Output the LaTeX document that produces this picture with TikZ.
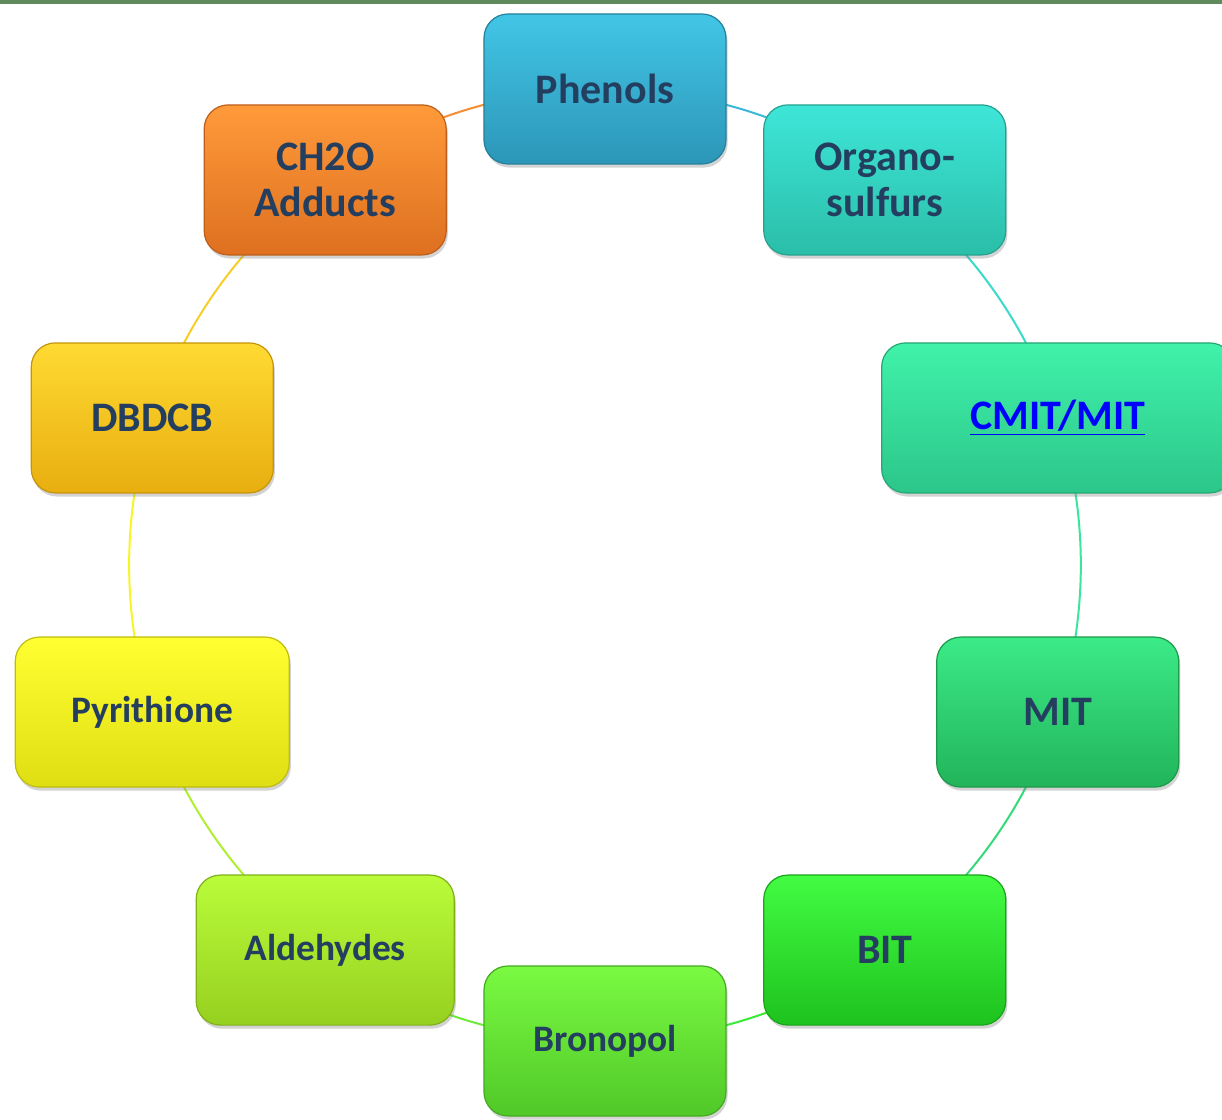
\documentclass[tikz,border=0pt]{standalone}
\usepackage{fontspec}
\setmainfont{Carlito}
\usetikzlibrary{shadows}
\usetikzlibrary{backgrounds}

\definecolor{txtnavy}{RGB}{36,62,96}
\definecolor{topbar}{RGB}{94,138,94}
\definecolor{phenT}{RGB}{66,198,230}\definecolor{phenB}{RGB}{44,150,184}
\definecolor{orgaT}{RGB}{62,230,216}\definecolor{orgaB}{RGB}{42,190,168}
\definecolor{cmitT}{RGB}{64,242,170}\definecolor{cmitB}{RGB}{44,198,138}
\definecolor{mitT}{RGB}{60,234,136}\definecolor{mitB}{RGB}{34,180,90}
\definecolor{bitT}{RGB}{66,252,66}\definecolor{bitB}{RGB}{30,194,30}
\definecolor{bronT}{RGB}{122,250,66}\definecolor{bronB}{RGB}{80,200,40}
\definecolor{aldeT}{RGB}{186,252,58}\definecolor{aldeB}{RGB}{150,208,32}
\definecolor{pyriT}{RGB}{255,255,50}\definecolor{pyriB}{RGB}{222,222,18}
\definecolor{dbdcT}{RGB}{255,218,50}\definecolor{dbdcB}{RGB}{232,174,16}
\definecolor{ch2oT}{RGB}{255,154,58}\definecolor{ch2oB}{RGB}{222,112,32}

\begin{document}
\begin{tikzpicture}[x=0.5pt,y=0.5pt,
    box/.style={rectangle,rounded corners=12pt,minimum width=121pt,minimum height=75pt,
      align=center,text=txtnavy,font=\fontsize{21}{23}\selectfont\bfseries,line width=0.6pt,
      drop shadow={shadow xshift=0.8pt,shadow yshift=-1.8pt,opacity=0.35}},
    small/.style={font=\fontsize{18.7}{21}\selectfont\bfseries},
    ring/.style={bend left=18,looseness=0.87,line width=1pt}]

      \useasboundingbox (-605,-555) rectangle (617,565);
      \fill[topbar] (-605,561) rectangle (617,565);

      \node (phen) [box,top color=phenT,bottom color=phenB,draw=phenB!85!black] at (90:476) {Phenols};
      \node (orga) [box,top color=orgaT,bottom color=orgaB,draw=orgaB!85!black] at (54:476) {Organo-\\sulfurs};
      \node (cmit) [box,minimum width=176pt,top color=cmitT,bottom color=cmitB,draw=cmitB!85!black] at (18:476) {\textcolor{blue}{\underline{CMIT/MIT}}};
      \node (mit) [box,top color=mitT,bottom color=mitB,draw=mitB!85!black] at (-18:476) {MIT};
      \node (bit) [box,top color=bitT,bottom color=bitB,draw=bitB!85!black] at (-54:476) {BIT};
      \node (bron) [box,small,top color=bronT,bottom color=bronB,draw=bronB!85!black] at (-90:476) {Bronopol};
      \node (alde) [box,small,minimum width=129pt,top color=aldeT,bottom color=aldeB,draw=aldeB!85!black] at (-126:476) {Aldehydes};
      \node (pyri) [box,small,minimum width=137pt,top color=pyriT,bottom color=pyriB,draw=pyriB!85!black] at (-162:476) {Pyrithione};
      \node (dbdc) [box,top color=dbdcT,bottom color=dbdcB,draw=dbdcB!85!black] at (162:476) {DBDCB};
      \node (ch2o) [box,top color=ch2oT,bottom color=ch2oB,draw=ch2oB!85!black] at (126:476) {CH2O\\Adducts};

      \begin{pgfonlayer}{background}
      \path
        (phen.center) edge [ring,draw=phenT!70!phenB] (orga.center)
        (orga.center) edge [ring,draw=orgaT!70!orgaB] (cmit.center)
        (cmit.center) edge [ring,draw=cmitT!70!cmitB] (mit.center)
        (mit.center) edge [ring,draw=mitT!70!mitB] (bit.center)
        (bit.center) edge [ring,draw=bitT!70!bitB] (bron.center)
        (bron.center) edge [ring,draw=bronT!70!bronB] (alde.center)
        (alde.center) edge [ring,draw=aldeT!70!aldeB] (pyri.center)
        (pyri.center) edge [ring,draw=pyriT!70!pyriB] (dbdc.center)
        (dbdc.center) edge [ring,draw=dbdcT!70!dbdcB] (ch2o.center)
        (ch2o.center) edge [ring,draw=ch2oT!70!ch2oB] (phen.center);
      \end{pgfonlayer}
    \end{tikzpicture}
\end{document}
